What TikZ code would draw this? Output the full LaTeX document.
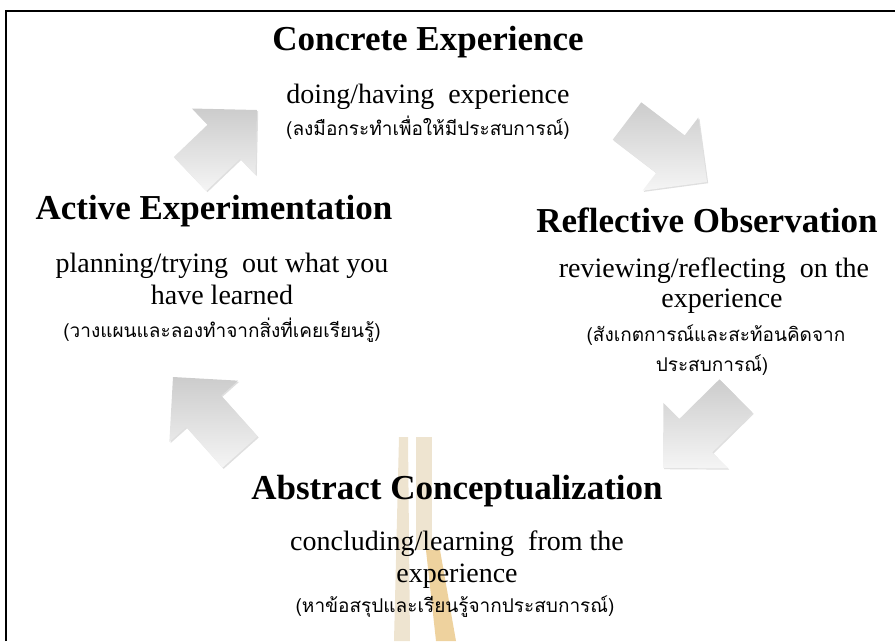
\documentclass[tikz,border=0pt]{standalone}
\usepackage{fontspec}
\setmainfont{Liberation Serif}
\newfontfamily\thaifont[Script=Thai]{Loma}
\usetikzlibrary{calc,shadows}

\definecolor{wmtan}{RGB}{238,228,208}
\definecolor{wmgold}{RGB}{238,210,158}

\tikzset{
  heading/.style={font=\fontsize{35}{40}\selectfont\bfseries, inner sep=0pt, anchor=base},
  subline/.style={font=\fontsize{28}{32}\selectfont, inner sep=0pt, anchor=base},
  thailine/.style={font=\thaifont\fontsize{19}{24}\selectfont, inner sep=0pt, anchor=base},
  blockarrow/.style={top color=gray!40, bottom color=gray!8, draw=none,
    drop shadow={shadow xshift=1.2pt, shadow yshift=-1.2pt, opacity=.25}},
}

% block arrow from #1 (tail) to #2 (tip)
\newcommand{\kolbarrow}[2]{%
  \coordinate (#1-base) at ($(#2)!46pt!(#1)$);
  \path[blockarrow]
    ($(#1)!23.5pt!90:(#2)$) -- ($(#1-base)!23.5pt!90:(#2)$)
    -- ($(#1-base)!46pt!90:(#2)$) -- (#2)
    -- ($(#1-base)!46pt!-90:(#2)$) -- ($(#1-base)!23.5pt!-90:(#2)$)
    -- ($(#1)!23.5pt!-90:(#2)$) -- cycle;
}

\begin{document}
\begin{tikzpicture}[x=1pt,y=-1pt]
\useasboundingbox (0,0) rectangle (895,641);

% frame
\draw[line width=1.6pt] (6,641) -- (6,11) -- (895,11);

% watermark
\fill[wmtan] (399,437) -- (408,437) -- (410,641) -- (394,641) -- cycle;
\fill[wmtan] (416,437) -- (432,437) -- (432,550) -- (416,550) -- cycle;
\fill[wmgold] (426,550) -- (440,550) -- (456,641) -- (436,641) -- cycle;

% arrows of the cycle
\coordinate (t1) at (190,174);
\coordinate (p1) at (257,110);
\coordinate (t2) at (627,121);
\coordinate (p2) at (707,182);
\coordinate (t3) at (736,396);
\coordinate (p3) at (663,468);
\coordinate (t4) at (240,452);
\coordinate (p4) at (173,377);
\kolbarrow{t1}{p1}
\kolbarrow{t2}{p2}
\kolbarrow{t3}{p3}
\kolbarrow{t4}{p4}

% concrete experience
\node[heading] (ce) at (428,50) {Concrete Experience};
\node[subline] (ce1) at (428,103) {doing/having\ \ experience};
\node[thailine] (ce2) at (428,135) {(ลงมือกระทำเพื่อให้มีประสบการณ์)};

% reflective observation
\node[heading] (ro) at (707,232) {Reflective Observation};
\node[subline] (ro1) at (714,277) {reviewing/reflecting\ \ on the};
\node[subline] (ro2) at (722,307) {experience};
\node[thailine] (ro3) at (716,341) {(สังเกตการณ์และสะท้อนคิดจาก};
\node[thailine] (ro4) at (712,371) {ประสบการณ์)};

% abstract conceptualization
\node[heading] (ac) at (457,499) {Abstract Conceptualization};
\node[subline] (ac1) at (457,550) {concluding/learning\ \ from the};
\node[subline] (ac2) at (457,582) {experience};
\node[thailine] (ac3) at (455,612) {(หาข้อสรุปและเรียนรู้จากประสบการณ์)};

% active experimentation
\node[heading] (ae) at (214,219) {Active Experimentation};
\node[subline] (ae1) at (222,272) {planning/trying\ \ out what you};
\node[subline] (ae2) at (222,304) {have learned};
\node[thailine] (ae3) at (222,337) {(วางแผนและลองทำจากสิ่งที่เคยเรียนรู้)};
\end{tikzpicture}
\end{document}
